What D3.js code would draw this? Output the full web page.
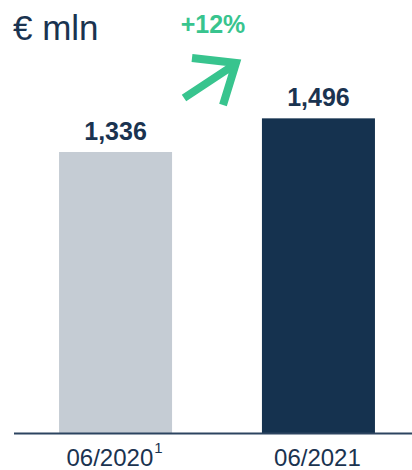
<!DOCTYPE html>
<html>
<head>
<meta charset="utf-8">
<script src="https://cdn.jsdelivr.net/npm/d3@7"></script>
<style>
  html, body { margin: 0; padding: 0; background: #fff; }
  svg { display: block; font-family: "Liberation Sans", Arial, sans-serif; }
</style>
</head>
<body>
<svg id="chart" width="412" height="470"></svg>
<script>
// Revenue by half-year, € mln
const categories = ["06/2020", "06/2021"];
const values = [1336, 1496];
const valueLabels = ["1,336", "1,496"];
const footnotes = ["1", ""];
const changeLabel = "+12%";
const unitLabel = "€ mln";

const colors = ["#c5ccd4", "#15324f"];
const navy = "#1a3350";
const green = "#38c48e";

const svg = d3.select("#chart");

const x = d3.scaleBand()
  .domain(categories)
  .range([14, 420])
  .paddingInner(0.443)
  .paddingOuter(0.222);

const y = d3.scaleLinear()
  .domain([0, 1336])
  .range([433, 152]);

// bars
svg.selectAll("rect.bar")
  .data(values)
  .join("rect")
  .attr("class", "bar")
  .attr("x", (d, i) => x(categories[i]))
  .attr("width", x.bandwidth())
  .attr("y", d => y(d))
  .attr("height", d => y(0) - y(d))
  .attr("fill", (d, i) => colors[i]);

// value labels
svg.selectAll("text.val")
  .data(values)
  .join("text")
  .attr("class", "val")
  .attr("x", (d, i) => x(categories[i]) + x.bandwidth() / 2)
  .attr("y", d => y(d) - 12)
  .attr("text-anchor", "middle")
  .attr("font-size", 25)
  .attr("font-weight", "bold")
  .attr("fill", navy)
  .text((d, i) => valueLabels[i]);

// baseline
svg.append("line")
  .attr("x1", 14).attr("x2", 412)
  .attr("y1", y(0) + 0.5).attr("y2", y(0) + 0.5)
  .attr("stroke", "#2c4460")
  .attr("stroke-width", 2);

// category labels
const cat = svg.selectAll("text.cat")
  .data(categories)
  .join("text")
  .attr("class", "cat")
  .attr("x", d => x(d) + x.bandwidth() / 2 - 1)
  .attr("y", 466)
  .attr("text-anchor", "middle")
  .attr("font-size", 24)
  .attr("fill", navy);
cat.append("tspan").text(d => d);
cat.append("tspan")
  .attr("font-size", 15)
  .attr("dx", 1)
  .attr("dy", -13)
  .text((d, i) => footnotes[i]);

// unit
svg.append("text")
  .attr("x", 13)
  .attr("y", 40)
  .attr("font-size", 35)
  .attr("fill", navy)
  .text(unitLabel);

// growth label and arrow
svg.append("text")
  .attr("x", 213)
  .attr("y", 33)
  .attr("text-anchor", "middle")
  .attr("font-size", 25)
  .attr("font-weight", "bold")
  .attr("fill", green)
  .text(changeLabel);

svg.append("path")
  .attr("d", "M184,98 L234,65 M192,58 L236,63 L223,105")
  .attr("fill", "none")
  .attr("stroke", green)
  .attr("stroke-width", 8)
  .attr("stroke-linejoin", "miter")
  .attr("stroke-linecap", "butt");
</script>
</body>
</html>
